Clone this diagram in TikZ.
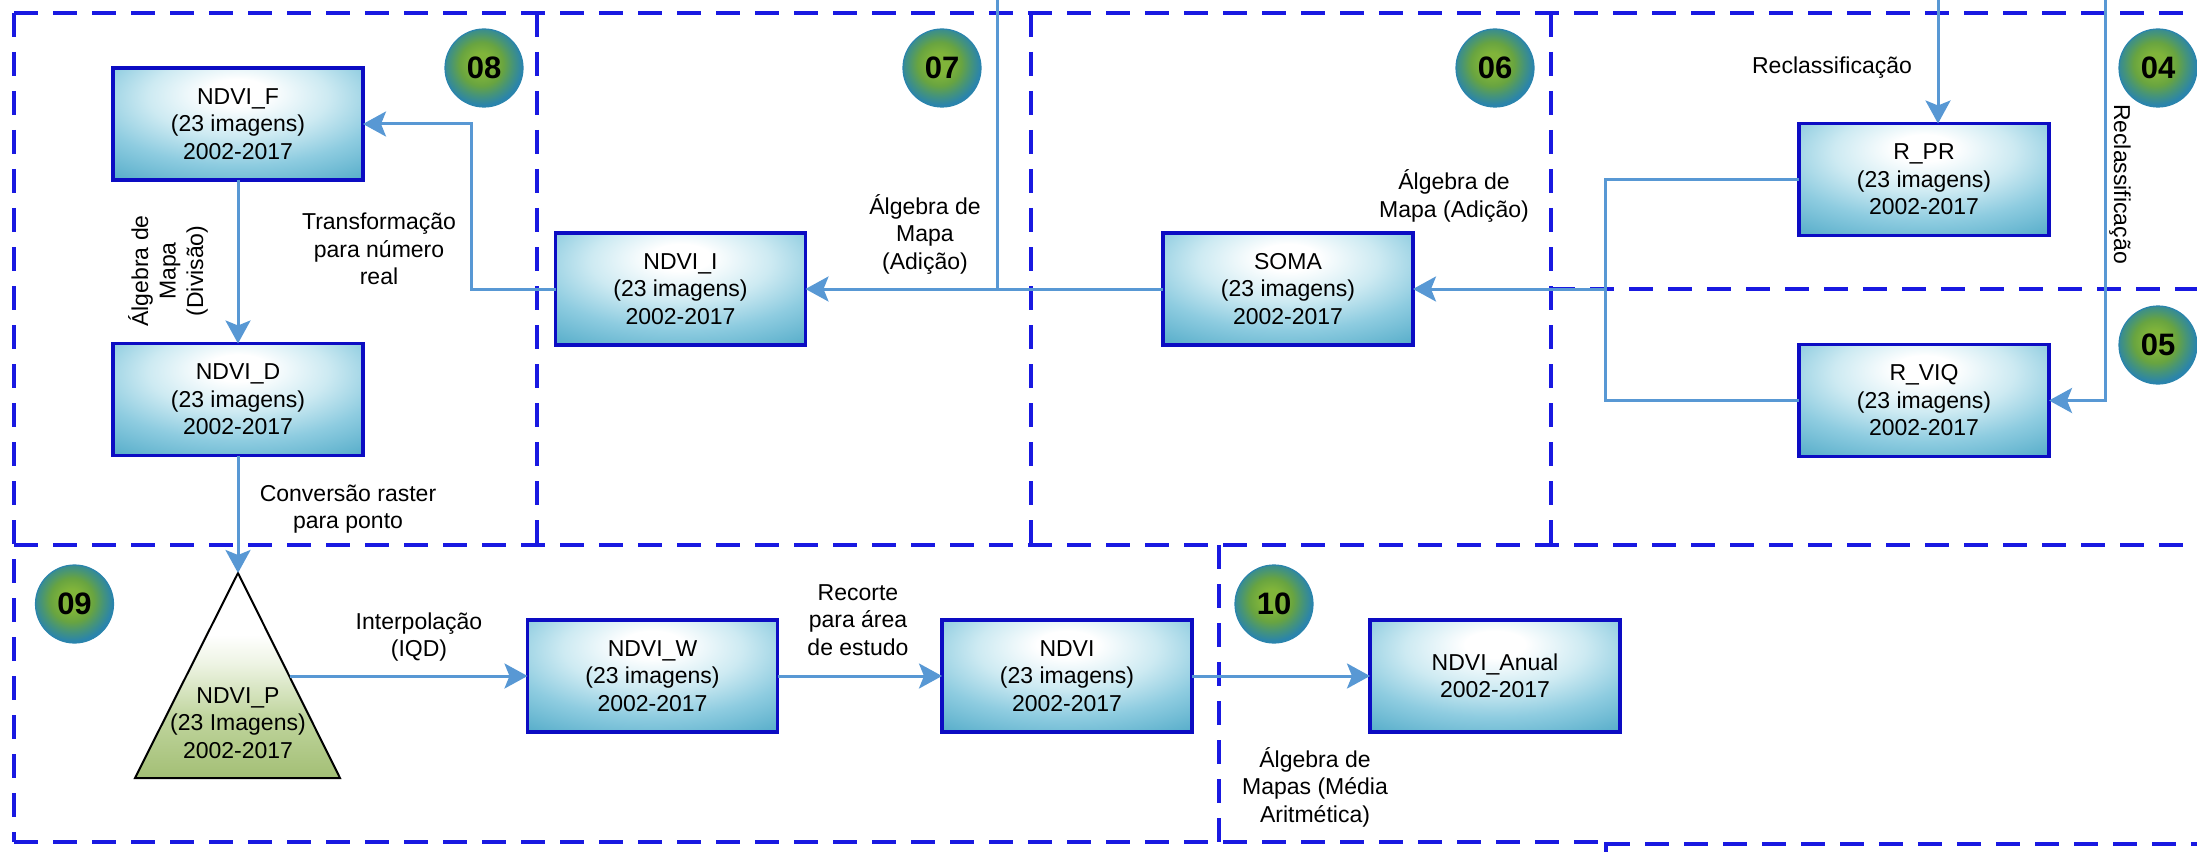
\documentclass[tikz,border=0pt]{standalone}
\usepackage{fontspec}
\setmainfont{Liberation Sans}
\usetikzlibrary{arrows.meta,calc}

\definecolor{zoneblue}{RGB}{25,25,225}
\definecolor{boxedge}{RGB}{12,12,195}
\definecolor{bxpale}{RGB}{205,234,242}
\definecolor{bxlight}{RGB}{142,204,224}
\definecolor{bxmid}{RGB}{90,175,203}
\definecolor{bxout}{RGB}{55,152,188}
\definecolor{flowblue}{RGB}{88,152,212}
\definecolor{greencore}{RGB}{128,180,58}
\definecolor{greenmid}{RGB}{104,164,64}
\definecolor{tealmix}{RGB}{70,148,120}
\definecolor{steprim}{RGB}{42,132,172}
\definecolor{trifill}{RGB}{163,191,117}
\definecolor{trimid}{RGB}{192,213,158}
\definecolor{trilight}{RGB}{238,244,228}

% white glow near the top of each data box, teal towards the corners
\pgfdeclareradialshading{boxglow}{\pgfpoint{0bp}{15bp}}{color(0bp)=(white); color(6bp)=(white); color(18bp)=(bxpale); color(29bp)=(bxlight); color(41bp)=(bxmid); color(50bp)=(bxout); color(100bp)=(bxout)}
% green centre, blue rim for the step badges
\pgfdeclareradialshading{badgeglow}{\pgfpoint{-2bp}{3bp}}{color(0bp)=(greencore); color(7bp)=(greencore); color(14bp)=(greenmid); color(20bp)=(tealmix); color(26bp)=(steprim); color(100bp)=(steprim)}
% pale top, olive base for the point layer
\pgfdeclareverticalshading{trishade}{100bp}{color(0bp)=(trifill); color(25bp)=(trifill); color(40bp)=(trimid); color(53bp)=(trilight); color(60bp)=(white); color(100bp)=(white)}

\newcommand\datafont{\fontsize{11.5}{13.75}\selectfont}

\tikzset{
  zone/.style={draw=zoneblue, line width=1.6pt, dash pattern=on 12pt off 7.5pt},
  databox/.style={draw=boxedge, line width=1.8pt, shading=boxglow, minimum width=125pt,
    minimum height=56pt, inner sep=2pt, outer sep=0pt, align=center, font=\datafont},
  badge/.style={circle, draw=steprim, line width=0.6pt, shading=badgeglow, minimum size=39pt,
    inner sep=0pt, font=\bfseries\fontsize{15.5}{17}\selectfont},
  flow/.style={draw=flowblue, line width=1.5pt},
  flowarrow/.style={flow, -{Stealth[length=11.5pt, width=12.5pt, inset=2.5pt]}},
  note/.style={align=center, font=\datafont, inner sep=1pt}
}

\begin{document}
\begin{tikzpicture}[x=0.5pt, y=-0.5pt]
\useasboundingbox (0,0) rectangle (2197,856);

% stage frames
\draw[zone] (14,13) -- (2197,13);
\draw[zone] (14,13) -- (14,842);
\draw[zone] (14,545) -- (2197,545);
\draw[zone] (14,842) -- (1606,842);
\draw[zone, line width=2.2pt] (1606,844) -- (2197,844);
\draw[draw=zoneblue, line width=1.6pt] (1606,842) -- (1606,852);
\draw[zone] (537,13) -- (537,545);
\draw[zone] (1031,13) -- (1031,545);
\draw[zone] (1551,13) -- (1551,545);
\draw[zone] (1551,289) -- (2197,289);
\draw[zone] (1219,545) -- (1219,842);

% step badges
\node[badge] (s08) at (484,68) {08};
\node[badge] (s07) at (942,68) {07};
\node[badge] (s06) at (1495,68) {06};
\node[badge] (s04) at (2158,68) {04};
\node[badge] (s05) at (2158,345) {05};
\node[badge] (s09) at (74.5,604) {09};
\node[badge] (s10) at (1274,604) {10};

% data sets
\node[databox] (ndvif) at (238,124) {NDVI\_F\\(23 imagens)\\2002-2017};
\node[databox] (ndvid) at (238,399.5) {NDVI\_D\\(23 imagens)\\2002-2017};
\node[databox] (ndvii) at (680.5,289) {NDVI\_I\\(23 imagens)\\2002-2017};
\node[databox] (soma) at (1288,289) {SOMA\\(23 imagens)\\2002-2017};
\node[databox] (rpr) at (1924,179.5) {R\_PR\\(23 imagens)\\2002-2017};
\node[databox] (rviq) at (1924,400.5) {R\_VIQ\\(23 imagens)\\2002-2017};
\node[databox] (ndviw) at (652.5,676) {NDVI\_W\\(23 imagens)\\2002-2017};
\node[databox] (ndvi) at (1067,676) {NDVI\\(23 imagens)\\2002-2017};
\node[databox] (ndvian) at (1495,676) {NDVI\_Anual\\2002-2017};

% point layer
\coordinate (apex) at (238,573);
\coordinate (pright) at (289.5,676);
\shade[shading=trishade, draw=black, line width=1pt]
  (apex) -- (340,778) -- (135,778) -- cycle;
\node[note] (ndvip) at (238,723) {NDVI\_P\\(23 Imagens)\\2002-2017};

% flows
\coordinate (bendf) at (471,289);
\draw[flowarrow] (ndvii.west) -- (bendf) |- (ndvif.east);
\draw[flowarrow] (ndvif.south) -- (ndvid.north);
\draw[flowarrow] (ndvid.south) -- (apex);
\draw[flowarrow] (soma.west) -- (ndvii.east);
\coordinate (feed07) at (997,0);
\draw[flow] (feed07) -- (feed07 |- soma.west);
\coordinate (join) at (1605,289);
\draw[flowarrow] (join) -- (soma.east);
\draw[flow] (rpr.west) -| (join) |- (rviq.west);
\coordinate (feed04) at (1938,0);
\draw[flowarrow] (feed04) -- (feed04 |- rpr.north);
\coordinate (feed05) at (2105,0);
\draw[flowarrow] (feed05) |- (rviq.east);
\draw[flowarrow] (pright) -- (ndviw.west);
\draw[flowarrow] (ndviw.east) -- (ndvi.west);
\draw[flowarrow] (ndvi.east) -- (ndvian.west);

% operation labels
\node[note] (lbltrans) at (379,249) {Transformação\\para número\\real};
\node[note, rotate=90] (lbldiv) at (168,271) {Álgebra de\\Mapa\\(Divisão)};
\node[note] (lblconv) at (348,509) {Conversão raster\\para ponto};
\node[note] (lbladd1) at (925,234) {Álgebra de\\Mapa\\(Adição)};
\node[note] (lbladd2) at (1454,196) {Álgebra de\\Mapa (Adição)};
\node[note] (lblrec1) at (1832,68) {Reclassificação};
\node[note, rotate=-90] (lblrec2) at (2120,184) {Reclassificação};
\node[note] (lblinterp) at (419,637) {Interpolação\\(IQD)};
\node[note] (lblclip) at (858,620) {Recorte\\para área\\de estudo};
\node[note] (lblmean) at (1315,787) {Álgebra de\\Mapas (Média\\Aritmética)};
\end{tikzpicture}
\end{document}
